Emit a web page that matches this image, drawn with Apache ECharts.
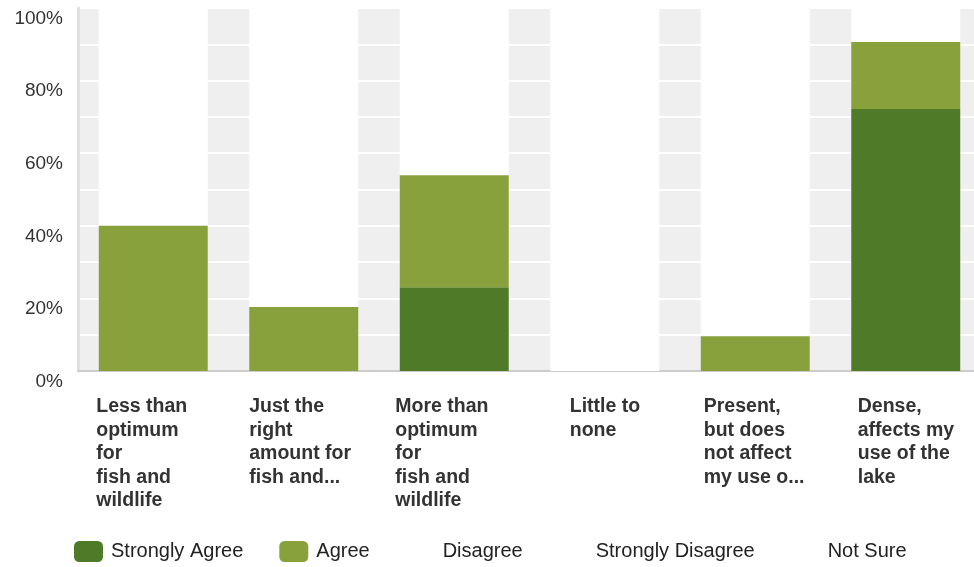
<!DOCTYPE html>
<html>
<head>
<meta charset="utf-8">
<script src="https://cdn.jsdelivr.net/npm/echarts@6/dist/echarts.min.js"></script>
<style>
html,body{margin:0;padding:0;background:#fff;overflow:hidden;}
#c{width:981px;height:567px;}
</style>
</head>
<body>
<div id="c"></div>
<script>
const categories = [
  "Less than\noptimum\nfor\nfish and\nwildlife",
  "Just the\nright\namount for\nfish and...",
  "More than\noptimum\nfor\nfish and\nwildlife",
  "Little to\nnone",
  "Present,\nbut does\nnot affect\nmy use o...",
  "Dense,\naffects my\nuse of the\nlake"
];
const seriesNames = ["Strongly Agree", "Agree", "Disagree", "Strongly Disagree", "Not Sure"];
const stronglyAgree = [0, 0, 23.1, 0, 0, 72.2];
const agree = [40, 17.6, 30.8, 0, 9.6, 18.4];
const disagree = [0, 0, 0, 0, 0, 0];
const stronglyDisagree = [0, 0, 0, 0, 0, 0];
const notSure = [0, 0, 0, 0, 0, 0];
const yTicks = [0, 20, 40, 60, 80, 100];

const FONT = 'Arial, "Liberation Sans", Helvetica, sans-serif';
const labelWidths = [114, 109, 118, 70, 103, 96];
const rich = {};
labelWidths.forEach((w, i) => {
  rich['c' + i] = {width: w, align: 'left', fontWeight: 'bold', fontSize: 19.5, lineHeight: 23.5, color: '#333', fontFamily: FONT};
});

const colors = ['#4f7a28', '#88a13d', 'rgba(0,0,0,0)', 'rgba(0,0,0,0)', 'rgba(0,0,0,0)'];
const allData = [stronglyAgree, agree, disagree, stronglyDisagree, notSure];

const chart = echarts.init(document.getElementById('c'), null, {renderer: 'canvas'});
chart.setOption({
  animation: false,
  color: colors,
  grid: {left: 78, top: 8, right: 0, height: 363, show: true, backgroundColor: '#efefef', borderWidth: 0, containLabel: false},
  legend: {
    left: 69, top: 536,
    itemWidth: 29, itemHeight: 21, itemGap: 36,
    icon: 'roundRect',
    data: seriesNames,
    textStyle: {fontSize: 20, color: '#222', fontFamily: FONT, padding: [0, 0, 0, 3]}
  },
  xAxis: {
    type: 'category',
    data: categories,
    axisTick: {show: false},
    axisLine: {show: true, lineStyle: {color: '#cccccc', width: 2}},
    axisLabel: {
      interval: 0,
      margin: 24,
      formatter: function (value, idx) {
        return value.split('\n').map(l => '{c' + idx + '|' + l + '}').join('\n');
      },
      rich: rich
    }
  },
  yAxis: {
    type: 'value',
    min: 0, max: 100, interval: 10,
    axisLine: {show: true, lineStyle: {color: '#e0e0e0', width: 3}},
    axisTick: {show: false},
    splitLine: {show: true, lineStyle: {color: '#ffffff', width: 2}},
    axisLabel: {
      margin: 15,
      fontSize: 19,
      color: '#333',
      fontFamily: FONT,
      verticalAlign: 'top',
      padding: [1, 0, 0, 0],
      formatter: function (v) { return yTicks.indexOf(v) >= 0 ? v + '%' : ''; }
    }
  },
  series: seriesNames.map((name, i) => ({
    name: name,
    type: 'bar',
    stack: 'total',
    barWidth: 109,
    data: allData[i],
    itemStyle: {color: colors[i]},
    showBackground: i === 0,
    backgroundStyle: {color: '#ffffff'}
  }))
});
</script>
</body>
</html>
